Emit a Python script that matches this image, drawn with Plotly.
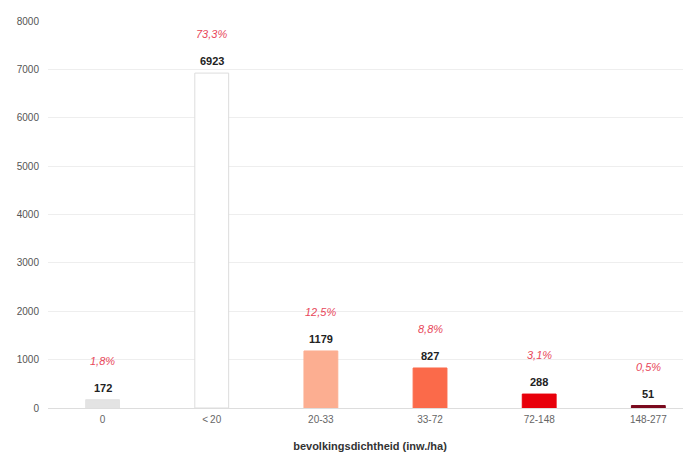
import plotly.graph_objects as go

categories = ["0", "<\u200920", "20-33", "33-72", "72-148", "148-277"]
values = [172, 6923, 1179, 827, 288, 51]
percent_labels = ["1,8%", "73,3%", "12,5%", "8,8%", "3,1%", "0,5%"]
bar_colors = ["#e3e3e3", "#ffffff", "#fcae91", "#fb6a4a", "#e8000b", "#7a0a1e"]
line_colors = ["#e3e3e3", "#dddddd", "#fcae91", "#fb6a4a", "#e8000b", "#7a0a1e"]
y_ticks = [0, 1000, 2000, 3000, 4000, 5000, 6000, 7000, 8000]

FONT = "Liberation Sans, Arial, sans-serif"

fig = go.Figure()
fig.add_trace(go.Bar(
    x=list(range(len(categories))),
    y=values,
    width=0.31,
    marker=dict(color=bar_colors, line=dict(color=line_colors, width=1)),
    hoverinfo="skip",
))

for i, (v, p) in enumerate(zip(values, percent_labels)):
    fig.add_annotation(
        x=i, y=v, text="<b>" + str(v) + "</b>", showarrow=False,
        yshift=12, yanchor="middle",
        font=dict(family=FONT, size=11, color="#222222"),
    )
    fig.add_annotation(
        x=i, y=v, text="<i>" + p + "</i>", showarrow=False,
        yshift=39, yanchor="middle",
        font=dict(family=FONT, size=11, color="#e8475a"),
    )

fig.update_layout(
    width=691, height=454,
    margin=dict(l=40, r=7, t=11, b=54),
    paper_bgcolor="white", plot_bgcolor="white",
    showlegend=False,
    xaxis=dict(
        range=[-0.5, 5.4],
        tickmode="array", tickvals=list(range(len(categories))), ticktext=categories,
        showgrid=False, zeroline=False, showline=False,
        tickfont=dict(family=FONT, size=10, color="#666666"),
        ticks="", ticklabelstandoff=4,
        title=dict(text="<b>bevolkingsdichtheid (inw./ha)</b>", standoff=18,
                   font=dict(family=FONT, size=11, color="#333333")),
    ),
    yaxis=dict(
        range=[0, 8000],
        tickvals=y_ticks,
        showgrid=True, gridcolor="#eeeeee", gridwidth=1,
        zeroline=True, zerolinecolor="#dddddd", zerolinewidth=1,
        tickfont=dict(family=FONT, size=10, color="#555555"),
        ticks="", ticklabelstandoff=8,
    ),
)

fig.write_html("out.html")
